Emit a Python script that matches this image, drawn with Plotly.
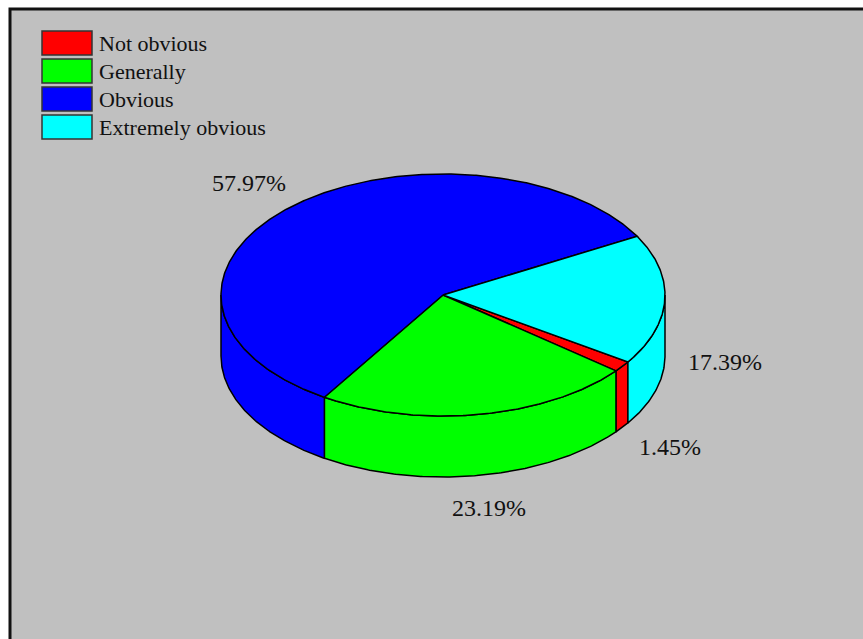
import numpy as np
import plotly.graph_objects as go

# ---- data ----
categories = ["Not obvious", "Generally", "Obvious", "Extremely obvious"]
values = [1.45, 23.19, 57.97, 17.39]
labels = ["1.45%", "23.19%", "57.97%", "17.39%"]
colors = ["#ff0000", "#00ff00", "#0000ff", "#00ffff"]

# ---- geometry / style (pixel space) ----
W, H = 863, 639
CX, CY = 443, 295
RX, RY = 222, 121
DEPTH = 61
START = 33.6          # degrees, clockwise on screen
LABEL_R = 1.27
BG = "#c0c0c0"
FONT = "Liberation Serif, Times New Roman, serif"

total = sum(values)
bounds = []
a = START
for v in values:
    b = a + 360.0 * v / total
    bounds.append((a, b))
    a = b


def arc(t0, t1, dy=0.0, n=None):
    if n is None:
        n = max(int(abs(t1 - t0) * 2) + 2, 3)
    t = np.radians(np.linspace(t0, t1, n))
    return CX + RX * np.cos(t), CY + RY * np.sin(t) + dy


fig = go.Figure()

# side walls (front half only)
for (a, b), c in zip(bounds, colors):
    for lo, hi in [(0, 180), (360, 540), (-360, -180)]:
        s, e = max(a, lo), min(b, hi)
        if e > s:
            xt, yt = arc(s, e)
            xb, yb = arc(e, s, DEPTH)
            xs = np.concatenate([xt, xb, xt[:1]])
            ys = np.concatenate([yt, yb, yt[:1]])
            fig.add_trace(go.Scatter(x=xs, y=ys, mode="lines", fill="toself",
                                     fillcolor=c, line=dict(color="black", width=1.5),
                                     hoverinfo="skip", showlegend=False))

# top faces
for (a, b), c in zip(bounds, colors):
    xa, ya = arc(a, b)
    xs = np.concatenate([[CX], xa, [CX]])
    ys = np.concatenate([[CY], ya, [CY]])
    fig.add_trace(go.Scatter(x=xs, y=ys, mode="lines", fill="toself",
                             fillcolor=c, line=dict(color="black", width=1.5),
                             hoverinfo="skip", showlegend=False))

# percentage labels
for (a, b), lab in zip(bounds, labels):
    m = np.radians((a + b) / 2)
    lx = CX + RX * LABEL_R * np.cos(m)
    ly = CY + RY * LABEL_R * np.sin(m) + (DEPTH if np.sin(m) >= 0 else 0)
    fig.add_annotation(x=lx, y=ly, text=lab, showarrow=False,
                       font=dict(family=FONT, size=24, color="#111111"),
                       xanchor="center", yanchor="middle")

shapes = [dict(type="rect", xref="x", yref="y", x0=10, x1=W + 40, y0=9, y1=H + 40,
               fillcolor=BG, line=dict(color="#111111", width=3), layer="below")]

# legend
for i, (cat, c) in enumerate(zip(categories, colors)):
    y0 = 31 + 28 * i
    shapes.append(dict(type="rect", xref="x", yref="y", x0=42, x1=92, y0=y0, y1=y0 + 24,
                       fillcolor=c, line=dict(color="#333333", width=1.5)))
    fig.add_annotation(x=97, y=y0 + 12, text=cat, showarrow=False,
                       font=dict(family=FONT, size=22, color="#111111"),
                       xanchor="left", yanchor="middle")

fig.update_layout(
    width=W, height=H,
    margin=dict(l=0, r=0, t=0, b=0),
    paper_bgcolor="white", plot_bgcolor="white",
    shapes=shapes,
    xaxis=dict(range=[0, W], visible=False, fixedrange=True),
    yaxis=dict(range=[H, 0], visible=False, fixedrange=True),
    showlegend=False,
)

fig.write_html("out.html")
